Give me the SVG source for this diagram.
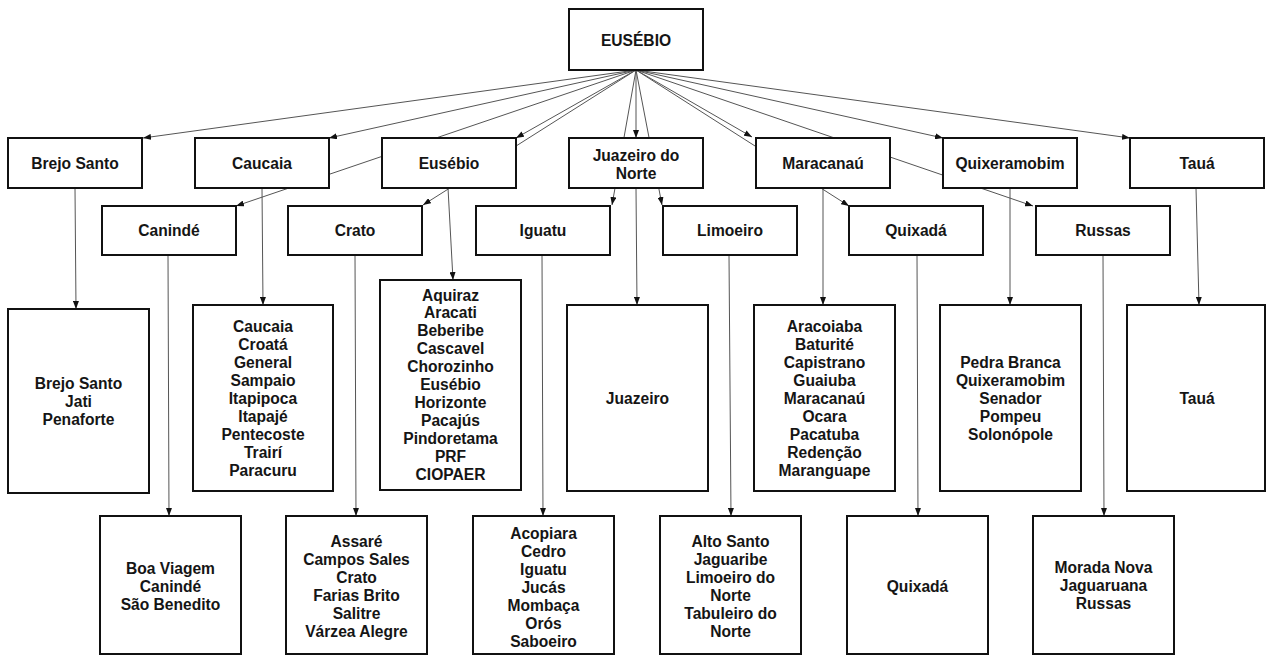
<svg xmlns="http://www.w3.org/2000/svg" width="1267" height="655" viewBox="0 0 1267 655">
<style>
.box{fill:#fff;stroke:#111;stroke-width:2}
.t{font-family:"Liberation Sans",Arial,sans-serif;font-weight:bold;font-size:15.6px;fill:#151515;text-anchor:middle}
.c{fill:none;stroke:#555;stroke-width:1;marker-end:url(#ah)}
</style>
<defs>
<marker id="ah" markerUnits="userSpaceOnUse" markerWidth="8" markerHeight="6" refX="8" refY="3" orient="auto">
<path d="M0,0 L8,3 L0,6 z" fill="#111"/>
</marker>
</defs>
<rect width="1267" height="655" fill="#fff"/>
<g id="connectors">
<line class="c" x1="636" y1="70" x2="143" y2="138"/>
<line class="c" x1="636" y1="70" x2="329" y2="138"/>
<line class="c" x1="636" y1="70" x2="516" y2="138"/>
<line class="c" x1="636" y1="70" x2="636" y2="138"/>
<line class="c" x1="636" y1="70" x2="752" y2="137"/>
<line class="c" x1="636" y1="70" x2="943" y2="138"/>
<line class="c" x1="636" y1="70" x2="1130" y2="138"/>
<line class="c" x1="636" y1="70" x2="236" y2="206"/>
<line class="c" x1="636" y1="70" x2="423" y2="205"/>
<line class="c" x1="636" y1="70" x2="612" y2="205"/>
<line class="c" x1="636" y1="70" x2="662" y2="205"/>
<line class="c" x1="636" y1="70" x2="849" y2="206"/>
<line class="c" x1="636" y1="70" x2="1033" y2="206"/>
<line class="c" x1="75" y1="188" x2="76" y2="309"/>
<line class="c" x1="262" y1="188" x2="263" y2="305"/>
<line class="c" x1="448" y1="188" x2="453" y2="280"/>
<line class="c" x1="636" y1="188" x2="637" y2="305"/>
<line class="c" x1="823" y1="188" x2="823" y2="305"/>
<line class="c" x1="1010" y1="188" x2="1010" y2="305"/>
<line class="c" x1="1196" y1="188" x2="1199" y2="305"/>
<line class="c" x1="168" y1="255" x2="169" y2="516"/>
<line class="c" x1="355" y1="255" x2="356" y2="516"/>
<line class="c" x1="542" y1="255" x2="543" y2="516"/>
<line class="c" x1="729" y1="255" x2="731" y2="516"/>
<line class="c" x1="917" y1="255" x2="918" y2="516"/>
<line class="c" x1="1103" y1="255" x2="1104" y2="516"/>
</g>
<g id="n-root"><rect class="box" x="569" y="9" width="134" height="61"/><text class="t" x="636" y="45.5">EUSÉBIO</text></g>
<g id="n-brejo"><rect class="box" x="8" y="138" width="134" height="50"/><text class="t" x="75" y="168.5">Brejo Santo</text></g>
<g id="n-caucaia"><rect class="box" x="195" y="138" width="134" height="50"/><text class="t" x="262" y="168.5">Caucaia</text></g>
<g id="n-eusebio"><rect class="box" x="382" y="138" width="134" height="50"/><text class="t" x="449" y="168.5">Eusébio</text></g>
<g id="n-juazeiro"><rect class="box" x="569" y="138" width="134" height="50"/><text class="t" x="636" y="160.5">Juazeiro do<tspan x="636" dy="18">Norte</tspan></text></g>
<g id="n-maracanau"><rect class="box" x="756" y="138" width="134" height="50"/><text class="t" x="823" y="168.5">Maracanaú</text></g>
<g id="n-quixeramobim"><rect class="box" x="943" y="138" width="134" height="50"/><text class="t" x="1010" y="168.5">Quixeramobim</text></g>
<g id="n-taua"><rect class="box" x="1130" y="138" width="134" height="50"/><text class="t" x="1197" y="168.5">Tauá</text></g>
<g id="n-caninde"><rect class="box" x="102" y="206" width="134" height="49"/><text class="t" x="169" y="236">Canindé</text></g>
<g id="n-crato"><rect class="box" x="288" y="206" width="134" height="49"/><text class="t" x="355" y="236">Crato</text></g>
<g id="n-iguatu"><rect class="box" x="476" y="206" width="134" height="49"/><text class="t" x="543" y="236">Iguatu</text></g>
<g id="n-limoeiro"><rect class="box" x="663" y="206" width="134" height="49"/><text class="t" x="730" y="236">Limoeiro</text></g>
<g id="n-quixada"><rect class="box" x="849" y="206" width="134" height="49"/><text class="t" x="916" y="236">Quixadá</text></g>
<g id="n-russas"><rect class="box" x="1036" y="206" width="134" height="49"/><text class="t" x="1103" y="236">Russas</text></g>
<g id="l-brejo"><rect class="box" x="8" y="309" width="141" height="184"/><text class="t" x="78.5" y="388.5">Brejo Santo<tspan x="78.5" dy="18">Jati</tspan><tspan x="78.5" dy="18">Penaforte</tspan></text></g>
<g id="l-caucaia"><rect class="box" x="193" y="305" width="140" height="186"/><text class="t" x="263" y="331.5">Caucaia<tspan x="263" dy="18">Croatá</tspan><tspan x="263" dy="18">General</tspan><tspan x="263" dy="18">Sampaio</tspan><tspan x="263" dy="18">Itapipoca</tspan><tspan x="263" dy="18">Itapajé</tspan><tspan x="263" dy="18">Pentecoste</tspan><tspan x="263" dy="18">Trairí</tspan><tspan x="263" dy="18">Paracuru</tspan></text></g>
<g id="l-eusebio"><rect class="box" x="380" y="280" width="141" height="210"/><text class="t" x="450.5" y="300.5">Aquiraz<tspan x="450.5" dy="17.9">Aracati</tspan><tspan x="450.5" dy="17.9">Beberibe</tspan><tspan x="450.5" dy="17.9">Cascavel</tspan><tspan x="450.5" dy="17.9">Chorozinho</tspan><tspan x="450.5" dy="17.9">Eusébio</tspan><tspan x="450.5" dy="17.9">Horizonte</tspan><tspan x="450.5" dy="17.9">Pacajús</tspan><tspan x="450.5" dy="17.9">Pindoretama</tspan><tspan x="450.5" dy="17.9">PRF</tspan><tspan x="450.5" dy="17.9">CIOPAER</tspan></text></g>
<g id="l-juazeiro"><rect class="box" x="567" y="305" width="141" height="186"/><text class="t" x="637.5" y="403.5">Juazeiro</text></g>
<g id="l-maracanau"><rect class="box" x="754" y="305" width="141" height="186"/><text class="t" x="824.5" y="331.5">Aracoiaba<tspan x="824.5" dy="18">Baturité</tspan><tspan x="824.5" dy="18">Capistrano</tspan><tspan x="824.5" dy="18">Guaiuba</tspan><tspan x="824.5" dy="18">Maracanaú</tspan><tspan x="824.5" dy="18">Ocara</tspan><tspan x="824.5" dy="18">Pacatuba</tspan><tspan x="824.5" dy="18">Redenção</tspan><tspan x="824.5" dy="18">Maranguape</tspan></text></g>
<g id="l-quixeramobim"><rect class="box" x="940" y="305" width="141" height="186"/><text class="t" x="1010.5" y="367.5">Pedra Branca<tspan x="1010.5" dy="18">Quixeramobim</tspan><tspan x="1010.5" dy="18">Senador</tspan><tspan x="1010.5" dy="18">Pompeu</tspan><tspan x="1010.5" dy="18">Solonópole</tspan></text></g>
<g id="l-taua"><rect class="box" x="1127" y="305" width="138" height="186"/><text class="t" x="1197" y="403.5">Tauá</text></g>
<g id="l-caninde"><rect class="box" x="100" y="516" width="141" height="138"/><text class="t" x="170.5" y="573.5">Boa Viagem<tspan x="170.5" dy="18">Canindé</tspan><tspan x="170.5" dy="18">São Benedito</tspan></text></g>
<g id="l-crato"><rect class="box" x="286" y="516" width="141" height="138"/><text class="t" x="356.5" y="546.5">Assaré<tspan x="356.5" dy="18">Campos Sales</tspan><tspan x="356.5" dy="18">Crato</tspan><tspan x="356.5" dy="18">Farias Brito</tspan><tspan x="356.5" dy="18">Salitre</tspan><tspan x="356.5" dy="18">Várzea Alegre</tspan></text></g>
<g id="l-iguatu"><rect class="box" x="473" y="516" width="141" height="138"/><text class="t" x="543.5" y="538.5">Acopiara<tspan x="543.5" dy="18">Cedro</tspan><tspan x="543.5" dy="18">Iguatu</tspan><tspan x="543.5" dy="18">Jucás</tspan><tspan x="543.5" dy="18">Mombaça</tspan><tspan x="543.5" dy="18">Orós</tspan><tspan x="543.5" dy="18">Saboeiro</tspan></text></g>
<g id="l-limoeiro"><rect class="box" x="660" y="516" width="141" height="138"/><text class="t" x="730.5" y="546.5">Alto Santo<tspan x="730.5" dy="18">Jaguaribe</tspan><tspan x="730.5" dy="18">Limoeiro do</tspan><tspan x="730.5" dy="18">Norte</tspan><tspan x="730.5" dy="18">Tabuleiro do</tspan><tspan x="730.5" dy="18">Norte</tspan></text></g>
<g id="l-quixada"><rect class="box" x="847" y="516" width="141" height="138"/><text class="t" x="917.5" y="591.5">Quixadá</text></g>
<g id="l-russas"><rect class="box" x="1033" y="516" width="141" height="138"/><text class="t" x="1103.5" y="572.5">Morada Nova<tspan x="1103.5" dy="18">Jaguaruana</tspan><tspan x="1103.5" dy="18">Russas</tspan></text></g>
</svg>
